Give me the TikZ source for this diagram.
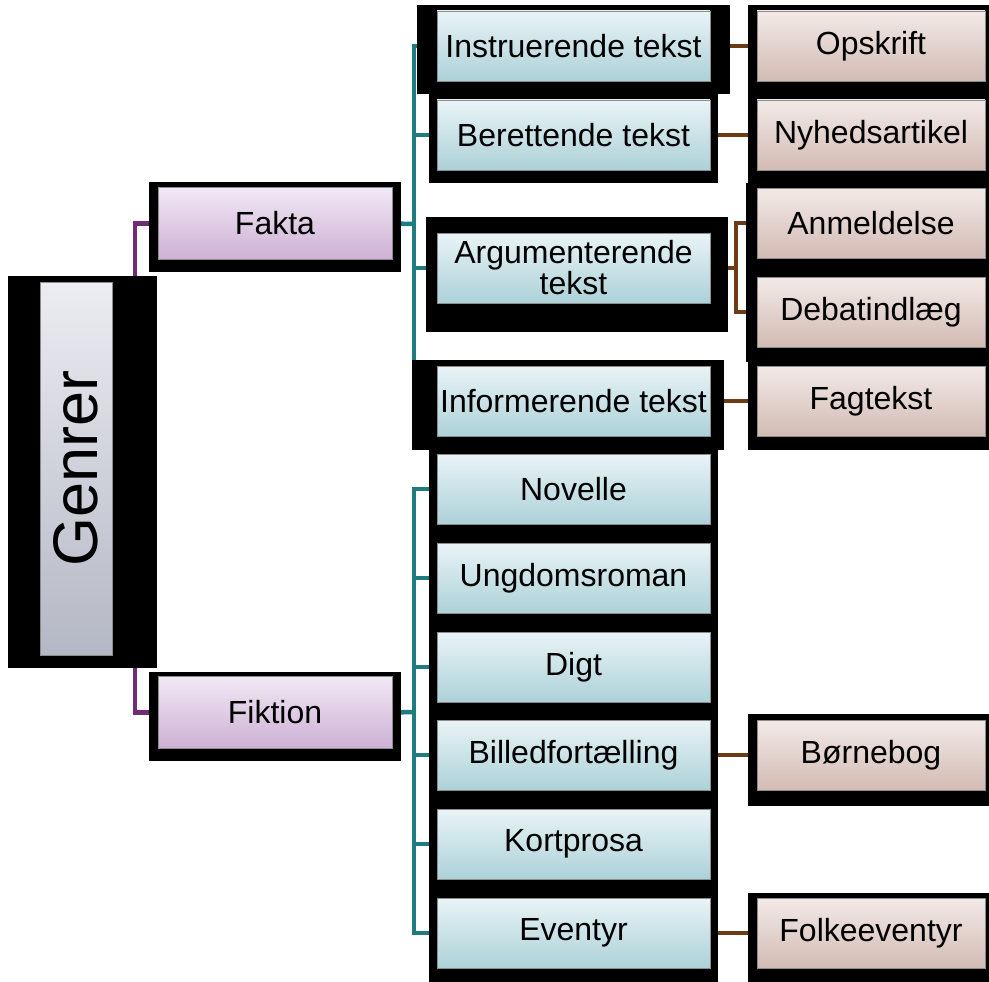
\documentclass[tikz,border=0pt]{standalone}
\usepackage{fontspec}
\setmainfont{Liberation Sans}
\usetikzlibrary{calc}
\pgfdeclarelayer{lines}
\pgfdeclarelayer{bg}
\pgfsetlayers{lines,bg,main}

\definecolor{tealln}{RGB}{31,123,128}
\definecolor{purpln}{RGB}{112,44,120}
\definecolor{brownln}{RGB}{110,60,20}
\definecolor{tealtop}{RGB}{233,244,246}
\definecolor{tealbot}{RGB}{172,209,216}
\definecolor{purptop}{RGB}{241,233,245}
\definecolor{purpbot}{RGB}{205,176,212}
\definecolor{browntop}{RGB}{242,234,232}
\definecolor{brownbot}{RGB}{211,187,179}
\definecolor{greytop}{RGB}{236,236,242}
\definecolor{greybot}{RGB}{180,184,196}

\tikzset{
  box/.style={draw=black!45, line width=0.8pt, inner sep=0pt, align=center,
    font=\fontsize{32}{33}\selectfont},
  genrebox/.style={box, top color=greytop, bottom color=greybot, minimum width=72, minimum height=373},
  mainbox/.style={box, top color=purptop, bottom color=purpbot, minimum width=234, minimum height=72},
  kindbox/.style={box, top color=tealtop, bottom color=tealbot, minimum width=273, minimum height=70},
  subbox/.style={box, top color=browntop, bottom color=brownbot, minimum width=228, minimum height=70},
  genline/.style={purpln, line width=4.5pt},
  kindline/.style={tealln, line width=4.5pt},
  subline/.style={brownln, line width=4.5pt}
}

\begin{document}
\begin{tikzpicture}[x=1pt, y=-1pt]
    \useasboundingbox (0,0) rectangle (989,982);

    % boxes
    \node[genrebox] (genrer) at (76,468.5) {\rotatebox{90}{\fontsize{63}{66}\selectfont Genrer}};
    \node[mainbox] (fakta) at (275,223.5) {Fakta};
    \node[mainbox] (fiktion) at (275,712.5) {Fiktion};

    \node[kindbox] (instr) at (573.5,46) {Instruerende tekst};
    \node[kindbox] (beret) at (573.5,135) {Berettende tekst};
    \node[kindbox] (argu) at (573.5,268) {Argumenterende\\[-2pt]tekst};
    \node[kindbox] (infor) at (573.5,401) {Informerende tekst};

    \node[kindbox] (novelle) at (573.5,489) {Novelle};
    \node[kindbox] (ungdom) at (573.5,578) {Ungdomsroman};
    \node[kindbox] (digt) at (573.5,667) {Digt};
    \node[kindbox] (billed) at (573.5,755) {Billedfortælling};
    \node[kindbox] (kort) at (573.5,844) {Kortprosa};
    \node[kindbox] (eventyr) at (573.5,933) {Eventyr};

    \node[subbox] (opskrift) at (871,46) {Opskrift};
    \node[subbox] (nyheds) at (871,135) {Nyhedsartikel};
    \node[subbox] (anmeld) at (871,223) {Anmeldelse};
    \node[subbox] (debat) at (871,312) {Debatindlæg};
    \node[subbox] (fagtekst) at (871,401) {Fagtekst};
    \node[subbox] (born) at (871,755) {Børnebog};
    \node[subbox] (folke) at (871,933) {Folkeeventyr};

    % black backgrounds
    \begin{pgfonlayer}{bg}
        \fill (8,276) rectangle (157,668);
        \fill (149,182) rectangle (401,272);
        \fill (149,672) rectangle (401,761);
        \fill (417,5) rectangle (730,94);
        \fill (429,94) rectangle (718,183);
        \fill (426,217) rectangle (728,332);
        \fill (412,360) rectangle (724,450);
        \fill (429,449) rectangle (718,982);
        \fill (748,5) rectangle (989,184);
        \fill (746,183) rectangle (989,362);
        \fill (748,361) rectangle (989,450);
        \fill (748,714) rectangle (989,806);
        \fill (748,893) rectangle (989,982);
    \end{pgfonlayer}

    % connectors
    \begin{pgfonlayer}{lines}
        \coordinate (gfork) at (135,468);
        \coordinate (ffork) at (414,224);
        \coordinate (xfork) at (414,712);
        \coordinate (afork) at (736,268);
        \draw[genline] (fakta.west) -| (gfork) |- (fiktion.west);
        \draw[kindline] (fakta.east) -- (ffork);
        \foreach \n in {instr,beret,argu,infor}
            \draw[kindline] (ffork) |- (\n.west);
        \draw[kindline] (fiktion.east) -- (xfork);
        \foreach \n in {novelle,ungdom,digt,billed,kort,eventyr}
            \draw[kindline] (xfork) |- (\n.west);
        \draw[subline] (instr.east) -- (opskrift.west);
        \draw[subline] (beret.east) -- (nyheds.west);
        \draw[subline] (argu.east) -- (afork);
        \draw[subline] (afork) |- (anmeld.west);
        \draw[subline] (afork) |- (debat.west);
        \draw[subline] (infor.east) -- (fagtekst.west);
        \draw[subline] (billed.east) -- (born.west);
        \draw[subline] (eventyr.east) -- (folke.west);
    \end{pgfonlayer}
\end{tikzpicture}
\end{document}
